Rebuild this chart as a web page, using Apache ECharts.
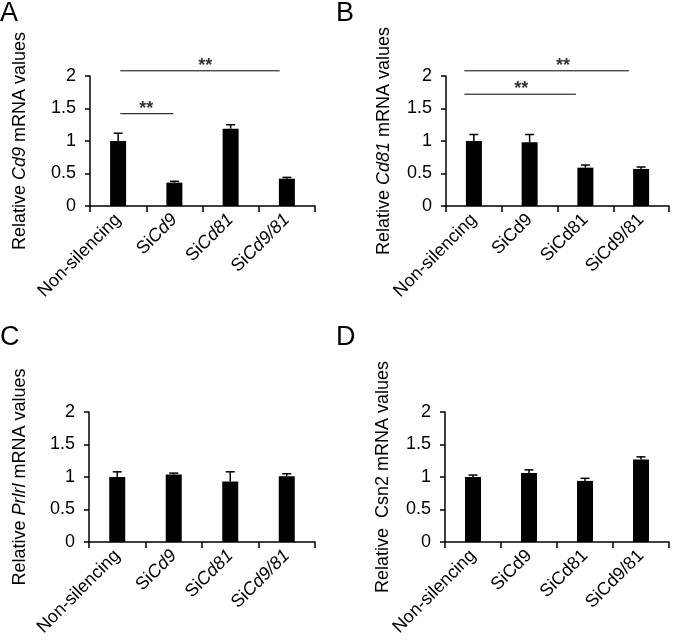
<!DOCTYPE html>
<html>
<head>
<meta charset="utf-8">
<script src="https://cdn.jsdelivr.net/npm/echarts@6/dist/echarts.min.js"></script>
<style>
html,body{margin:0;padding:0;background:#fff;}
#c{width:676px;height:641px;}
</style>
</head>
<body>
<div id="c"></div>
<script>
// ---- data ----
const categories = ['Non-silencing', 'SiCd9', 'SiCd81', 'SiCd9/81'];
const yTicks = [0, 0.5, 1, 1.5, 2];

const cd9Mean  = [1.00, 0.36, 1.19, 0.42];
const cd9Err   = [0.12, 0.02, 0.06, 0.02];
const cd81Mean = [1.00, 0.98, 0.59, 0.57];
const cd81Err  = [0.10, 0.12, 0.04, 0.03];
const prlrMean = [1.00, 1.04, 0.93, 1.01];
const prlrErr  = [0.08, 0.02, 0.15, 0.04];
const csn2Mean = [1.00, 1.06, 0.94, 1.27];
const csn2Err  = [0.03, 0.05, 0.04, 0.04];

// significance brackets: [from (category index), to (category index), y value, star x]
const sigA = [[0.04, 2.87, 2.08, 1.55], [0.04, 0.98, 1.42, 0.50]];
const sigB = [[-0.17, 2.78, 2.08, 1.60], [-0.17, 1.83, 1.72, 0.85]];

const panelLetters = ['A', 'B', 'C', 'D'];
const geneNames = ['Cd9', 'Cd81', 'Prlrl', 'Csn2'];

// ---- layout / style ----
const FONT = "'Liberation Sans', Arial, sans-serif";
const panels = [
  {mean: cd9Mean,  err: cd9Err,  sig: sigA, letter: panelLetters[0], gene: geneNames[0], geneItalic: true,  labItalic: true,
   grid: {left: 90, top: 76, width: 225, height: 130}, nameGap: 61, letterPos: [0, 0]},
  {mean: cd81Mean, err: cd81Err, sig: sigB, letter: panelLetters[1], gene: geneNames[1], geneItalic: true,  labItalic: false,
   grid: {left: 446, top: 76, width: 223, height: 130}, nameGap: 53, letterPos: [336, 0]},
  {mean: prlrMean, err: prlrErr, sig: [],   letter: panelLetters[2], gene: geneNames[2], geneItalic: true,  labItalic: true,
   grid: {left: 89, top: 412, width: 226, height: 130}, nameGap: 60, letterPos: [0, 324]},
  {mean: csn2Mean, err: csn2Err, sig: [],   letter: panelLetters[3], gene: geneNames[3], geneItalic: false, labItalic: false,
   grid: {left: 445, top: 412, width: 224, height: 130}, nameGap: 53, letterPos: [336, 324]}
];

const richStyles = {
  n: {fontFamily: FONT, fontSize: 18, color: '#000'},
  i: {fontFamily: FONT, fontSize: 18, color: '#000', fontStyle: 'italic'}
};
const nameRich = {
  n: {fontFamily: FONT, fontSize: 18, color: '#000'},
  i: {fontFamily: FONT, fontSize: 18, color: '#000', fontStyle: 'italic'}
};

const grids = [], xAxes = [], yAxes = [], series = [], titles = [];

panels.forEach((p, k) => {
  grids.push(Object.assign({containLabel: false}, p.grid));
  xAxes.push({
    type: 'category', gridIndex: k, data: categories,
    axisLine: {onZero: false, lineStyle: {color: '#000', width: 1.5}},
    axisTick: {show: true, length: 6, lineStyle: {color: '#000', width: 1.5}},
    axisLabel: {
      interval: 0, rotate: 45, margin: 11, color: '#000', fontFamily: FONT, fontSize: 18,
      rich: richStyles,
      formatter: v => {
        if (p.labItalic && v.indexOf('Si') === 0) return '{n|Si}{i|' + v.slice(2) + '}';
        return '{n|' + v + '}';
      }
    },
    splitLine: {show: false}
  });
  yAxes.push({
    type: 'value', gridIndex: k, min: yTicks[0], max: yTicks[yTicks.length - 1], interval: yTicks[1] - yTicks[0],
    axisLine: {show: true, onZero: false, lineStyle: {color: '#000', width: 1.5}},
    axisTick: {show: true, length: 5, lineStyle: {color: '#000', width: 1.5}},
    axisLabel: {margin: 14, color: '#000', fontFamily: FONT, fontSize: 18},
    splitLine: {show: false},
    name: p.geneItalic
      ? '{n|Relative }{i|' + p.gene + '}{n| mRNA values}'
      : '{n|Relative  ' + p.gene + ' mRNA values}',
    nameLocation: 'middle', nameGap: p.nameGap,
    nameTextStyle: {rich: nameRich, fontFamily: FONT, fontSize: 18, color: '#000'}
  });
  titles.push({text: p.letter, left: p.letterPos[0], top: p.letterPos[1], padding: 0,
    textStyle: {fontFamily: FONT, fontSize: 27, fontWeight: 'normal', color: '#000'}});
});

// hidden value x axes for bracket annotations (category index units)
panels.forEach((p, k) => {
  xAxes.push({type: 'value', gridIndex: k, min: -0.5, max: categories.length - 0.5, show: false,
    axisLine: {onZero: false}});
});

panels.forEach((p, k) => {
  series.push({
    type: 'bar', xAxisIndex: k, yAxisIndex: k, data: p.mean, barWidth: 16,
    itemStyle: {color: '#000'}, z: 2, silent: true
  });
  series.push({
    type: 'custom', xAxisIndex: k, yAxisIndex: k, z: 3, silent: true,
    data: p.mean.map((m, i) => [i, m, m + p.err[i]]),
    renderItem: (params, api) => {
      const a = api.coord([api.value(0), api.value(1)]);
      const b = api.coord([api.value(0), api.value(2)]);
      const cw = 4.5;
      return {type: 'group', children: [
        {type: 'line', shape: {x1: a[0], y1: a[1], x2: b[0], y2: b[1]}, style: {stroke: '#000', lineWidth: 1.5}},
        {type: 'line', shape: {x1: b[0] - cw, y1: b[1], x2: b[0] + cw, y2: b[1]}, style: {stroke: '#000', lineWidth: 1.5}}
      ]};
    }
  });
  p.sig.forEach(s => {
    series.push({
      type: 'line', xAxisIndex: 4 + k, yAxisIndex: k, clip: false, silent: true,
      data: [[s[0], s[2]], [s[1], s[2]]], symbol: 'none',
      lineStyle: {color: '#000', width: 1}, z: 4
    });
    series.push({
      type: 'scatter', xAxisIndex: 4 + k, yAxisIndex: k, clip: false, silent: true,
      data: [[s[3], s[2]]], symbolSize: 0,
      label: {show: true, position: 'top', distance: -4, formatter: '**',
        fontFamily: FONT, fontSize: 18, fontWeight: 'bold', color: '#000'},
      z: 4
    });
  });
});

const chart = echarts.init(document.getElementById('c'), null, {renderer: 'canvas'});
chart.setOption({
  animation: false,
  backgroundColor: '#fff',
  title: titles,
  grid: grids,
  xAxis: xAxes,
  yAxis: yAxes,
  series: series
});
</script>
</body>
</html>
